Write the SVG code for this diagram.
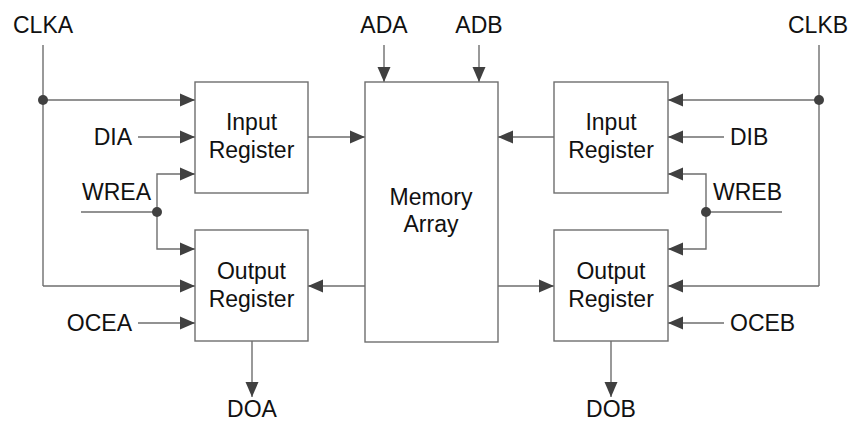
<svg xmlns="http://www.w3.org/2000/svg" width="851" height="423" viewBox="0 0 851 423">
<style>
.box{fill:#fff;stroke:#6e6e6e;stroke-width:1.4}
.ln{fill:none;stroke:#6e6e6e;stroke-width:1.4}
.ar{marker-end:url(#ah)}
.dot{fill:#404040}
text{font-family:"Liberation Sans",Arial,sans-serif;font-size:23px;fill:#111}
.c{text-anchor:middle}
.e{text-anchor:end}
</style>
<defs>
<marker id="ah" markerUnits="userSpaceOnUse" markerWidth="15" markerHeight="13" refX="15" refY="6.5" orient="auto" overflow="visible">
<path d="M0,0 L15,6.5 L0,13 z" fill="#404040"/>
</marker>
</defs>
<g id="connectors">
<path class="ln" d="M43,45 V286"/>
<path class="ln ar" d="M43,100 H195"/>
<path class="ln ar" d="M43,286 H195"/>
<path class="ln ar" d="M138,137 H195"/>
<path class="ln ar" d="M157,212 V174 H195"/>
<path class="ln ar" d="M157,212 V249 H195"/>
<path class="ln" d="M81,212 H157"/>
<path class="ln ar" d="M138,323 H195"/>
<path class="ln ar" d="M252,341 V397"/>
<path class="ln ar" d="M308,137 H365"/>
<path class="ln ar" d="M365,286 H308"/>
<path class="ln ar" d="M384,45 V82"/>
<path class="ln ar" d="M479,45 V82"/>
<path class="ln ar" d="M554,137 H498"/>
<path class="ln ar" d="M498,286 H554"/>
<path class="ln" d="M819,45 V286"/>
<path class="ln ar" d="M819,100 H668"/>
<path class="ln ar" d="M819,286 H668"/>
<path class="ln ar" d="M724,137 H668"/>
<path class="ln ar" d="M706,212 V174 H668"/>
<path class="ln ar" d="M706,212 V249 H668"/>
<path class="ln" d="M706,212 H782"/>
<path class="ln ar" d="M724,323 H668"/>
<path class="ln ar" d="M611,341 V397"/>
<circle class="dot" cx="43" cy="100" r="5"/>
<circle class="dot" cx="157" cy="212" r="5"/>
<circle class="dot" cx="819" cy="100" r="5"/>
<circle class="dot" cx="706" cy="212" r="5"/>
</g>
<g id="input-register-a">
<rect class="box" x="195" y="82" width="113" height="111"/>
<text class="c" x="251.5" y="130">Input</text>
<text class="c" x="251.5" y="158">Register</text>
</g>
<g id="output-register-a">
<rect class="box" x="195" y="230" width="113" height="111"/>
<text class="c" x="251.5" y="279">Output</text>
<text class="c" x="251.5" y="307">Register</text>
</g>
<g id="memory-array">
<rect class="box" x="365" y="82" width="133" height="260"/>
<text class="c" x="431" y="205">Memory</text>
<text class="c" x="431" y="232">Array</text>
</g>
<g id="input-register-b">
<rect class="box" x="554" y="82" width="114" height="111"/>
<text class="c" x="611" y="130">Input</text>
<text class="c" x="611" y="158">Register</text>
</g>
<g id="output-register-b">
<rect class="box" x="554" y="230" width="114" height="111"/>
<text class="c" x="611" y="279">Output</text>
<text class="c" x="611" y="307">Register</text>
</g>
<g id="labels">
<text x="13" y="33">CLKA</text>
<text class="e" x="132" y="145">DIA</text>
<text class="e" x="151" y="200">WREA</text>
<text class="e" x="132" y="331">OCEA</text>
<text class="c" x="252" y="417">DOA</text>
<text class="c" x="384" y="33">ADA</text>
<text class="c" x="479" y="33">ADB</text>
<text x="788" y="33">CLKB</text>
<text x="730" y="145">DIB</text>
<text x="713" y="200">WREB</text>
<text x="730" y="331">OCEB</text>
<text class="c" x="611" y="417">DOB</text>
</g>
</svg>
